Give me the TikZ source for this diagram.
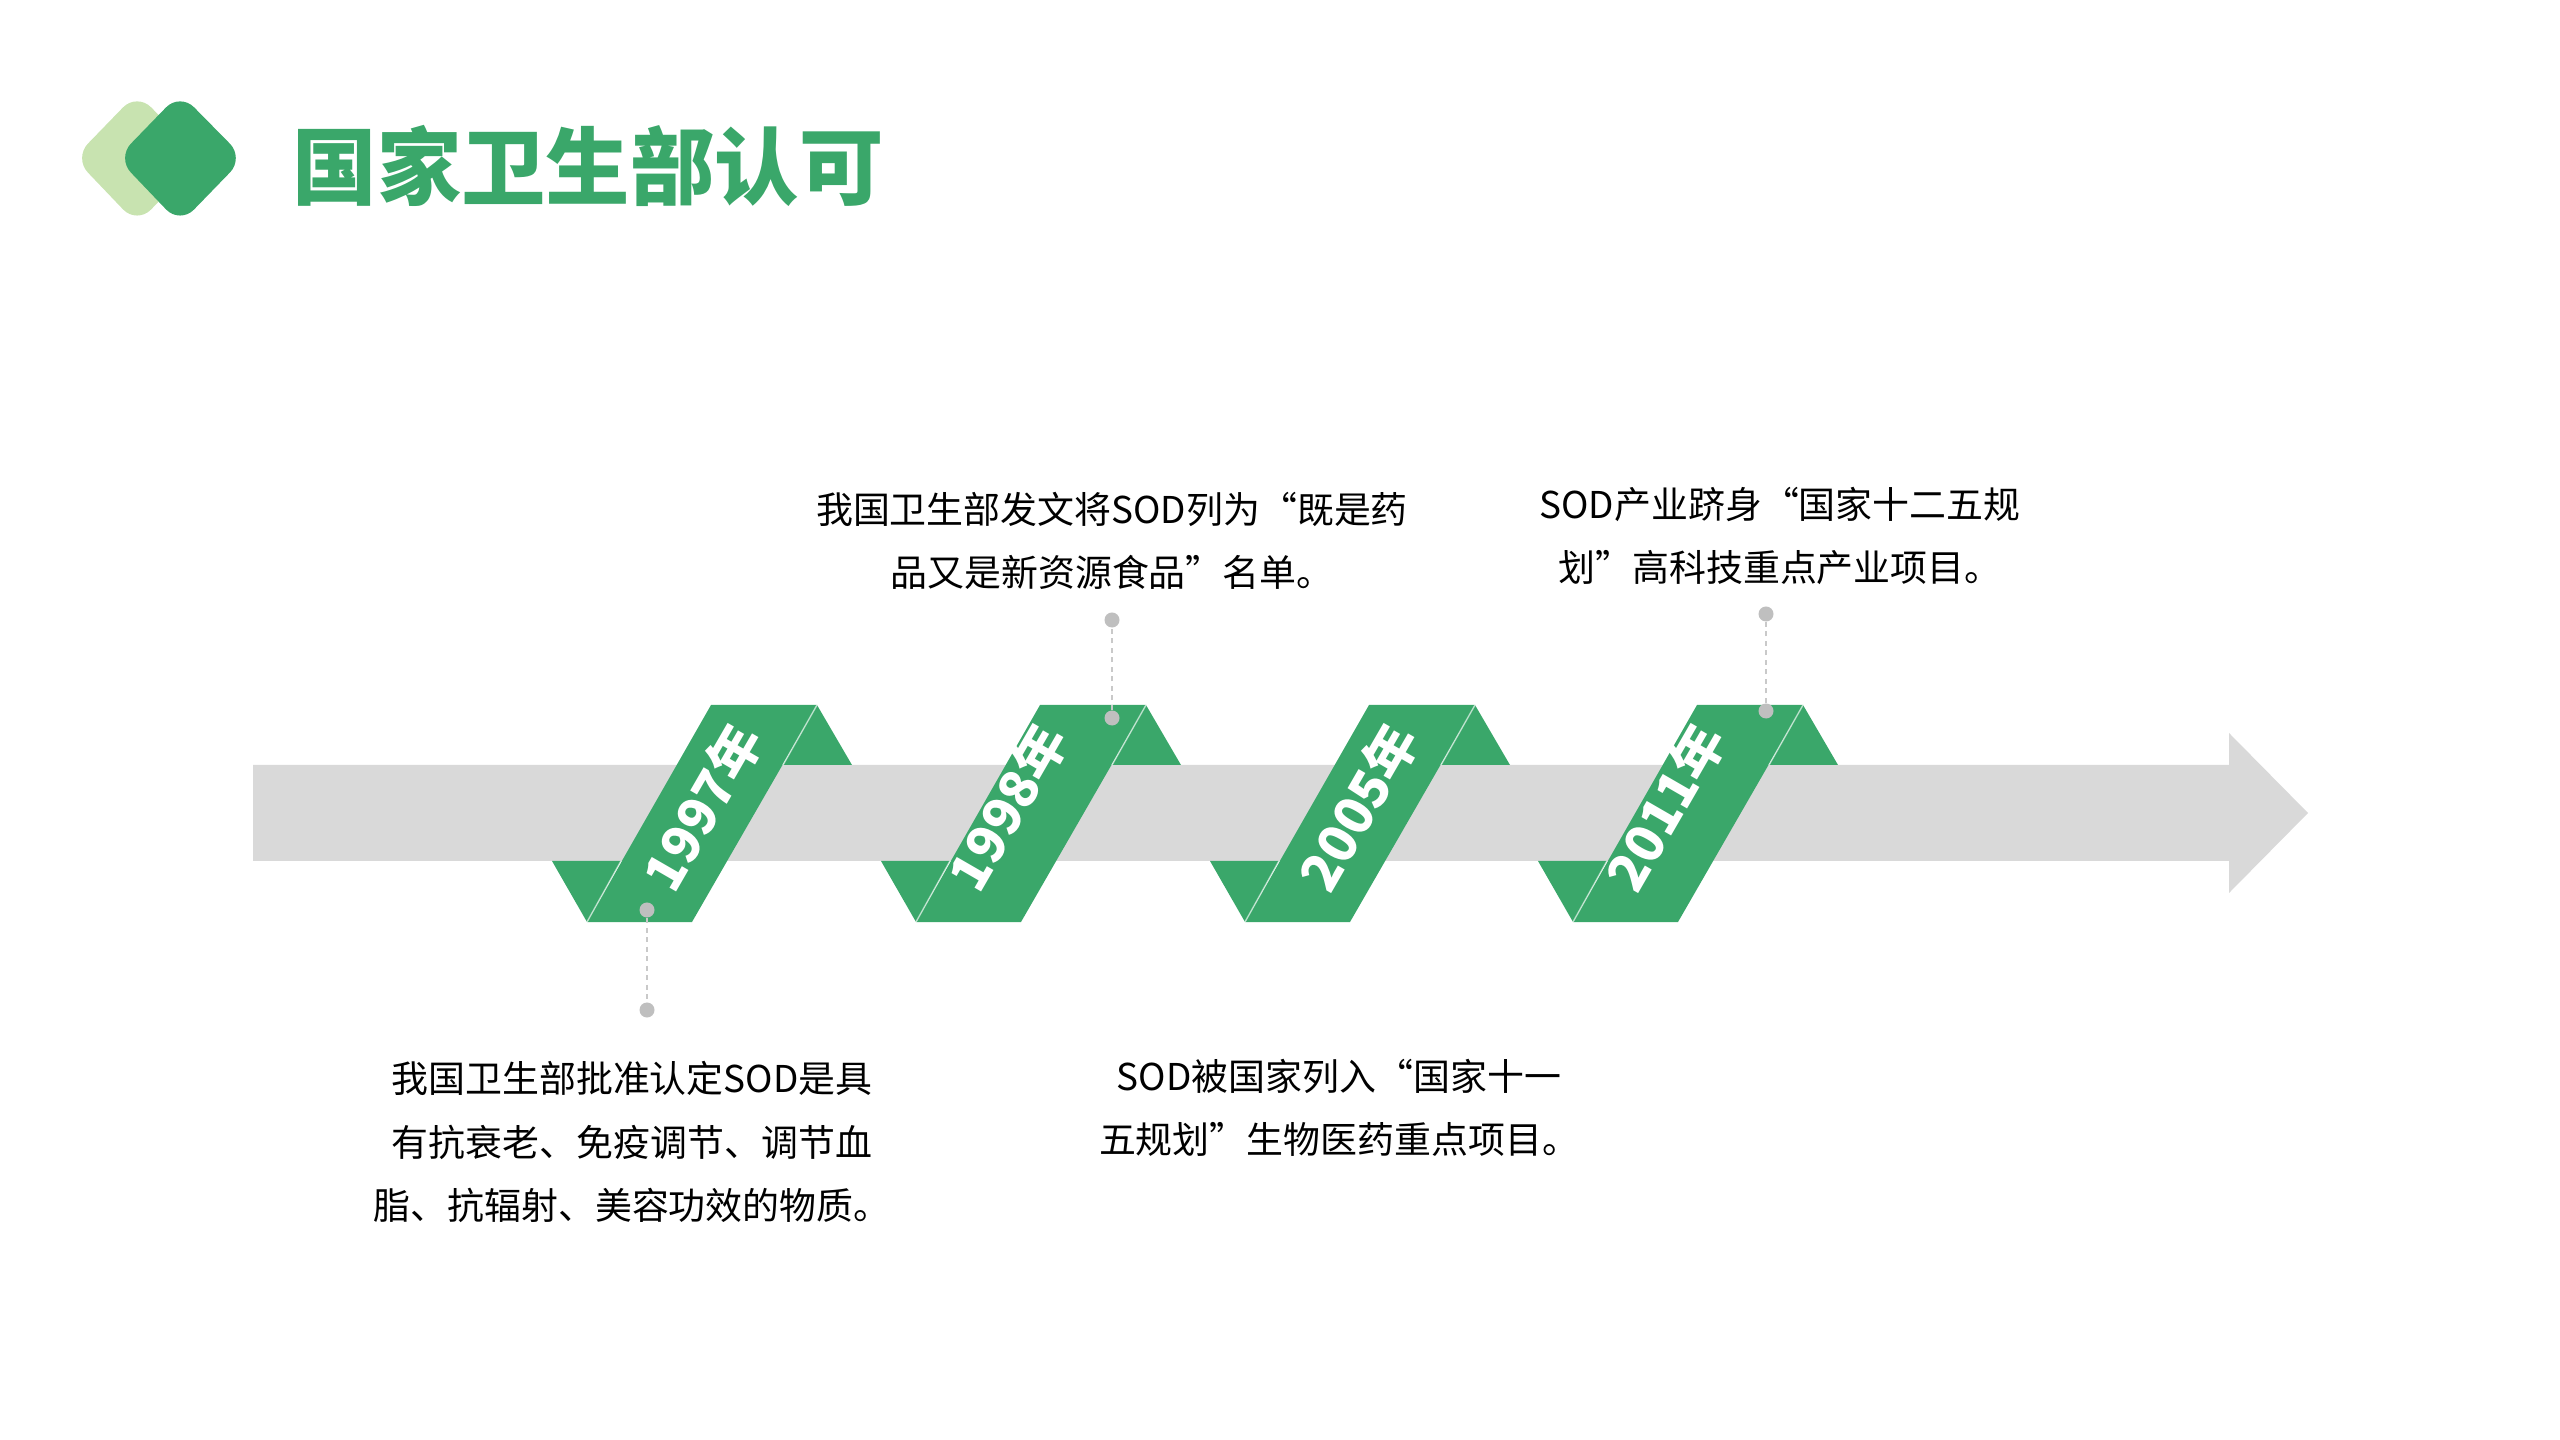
\documentclass[tikz,border=0pt]{standalone}
\usepackage{fontspec}
\setmainfont{Noto Sans CJK SC}
\usetikzlibrary{calc}

\definecolor{leaf}{RGB}{58,167,106}
\definecolor{pale}{RGB}{200,227,176}
\definecolor{band}{RGB}{217,217,217}
\definecolor{pin}{RGB}{191,191,191}

\begin{document}
\begin{tikzpicture}[x=0.01cm,y=-0.01cm,
    note/.style={align=center,inner sep=0pt,font=\fontsize{10.5}{18}\selectfont},
    year/.style={text=white,inner sep=0pt,rotate=60,font=\fontsize{15}{16}\selectfont\bfseries},
    pinhead/.style={circle,fill=pin,inner sep=0pt,minimum size=0.15cm},
    leader/.style={pin!85,line width=0.5pt,dash pattern=on 1.5pt off 1.2pt},
    crease/.style={white,opacity=0.6,line width=0.4pt}]

    \useasboundingbox (0,0) rectangle (2560,1440);

    % heading
    \fill[pale,rounded corners=0.2cm] (74,158) -- (137,93) -- (201,158) -- (137,224) -- cycle;
    \fill[leaf,rounded corners=0.2cm] (117,158) -- (180,93) -- (244,158) -- (180,224) -- cycle;
    \node[anchor=west,inner sep=0pt,text=leaf,font=\fontsize{24}{26}\selectfont\bfseries] (title) at (292,166) {国家卫生部认可};

    % time line
    \fill[band] (253,765) -- (2229,765) -- (2229,733) -- (2308,813) -- (2229,893) -- (2229,861) -- (253,861) -- cycle;

    \foreach \x/\yr/\dx in {711/1997/0,1040/1998/-24,1369/2005/-2,1697/2011/-23}{
        \fill[leaf] (\x+106,705) -- (\x+141,765) -- (\x+72,765) -- cycle;
        \fill[leaf] (\x-159,861) -- (\x-90,861) -- (\x-124,922) -- cycle;
        \fill[leaf] (\x,705) -- (\x+106,705) -- (\x-19,922) -- (\x-124,922) -- cycle;
        \draw[crease] (\x-124,922) -- (\x-90,861) (\x+106,705) -- (\x+72,765);
        \node[year] (Y\yr) at (\x-9+\dx,807) {\yr 年};
    }

    \node[pinhead] (P1a) at (647,910) {};
    \node[pinhead] (P1b) at (647,1010) {};
    \node[pinhead] (P2a) at (1112,718) {};
    \node[pinhead] (P2b) at (1112,620) {};
    \node[pinhead] (P4a) at (1766,711) {};
    \node[pinhead] (P4b) at (1766,614) {};
    \draw[leader] (P1a) -- (P1b);
    \draw[leader] (P2a) -- (P2b);
    \draw[leader] (P4a) -- (P4b);

    \node[note] (N1) at (632,1142) {我国卫生部批准认定SOD是具\\有抗衰老、免疫调节、调节血\\脂、抗辐射、美容功效的物质。};
    \node[note] (N2) at (1112,541) {我国卫生部发文将SOD列为“既是药\\品又是新资源食品”名单。};
    \node[note] (N3) at (1339,1108) {SOD被国家列入“国家十一\\五规划”生物医药重点项目。};
    \node[note] (N4) at (1780,536) {SOD产业跻身“国家十二五规\\划”高科技重点产业项目。};

\end{tikzpicture}
\end{document}
